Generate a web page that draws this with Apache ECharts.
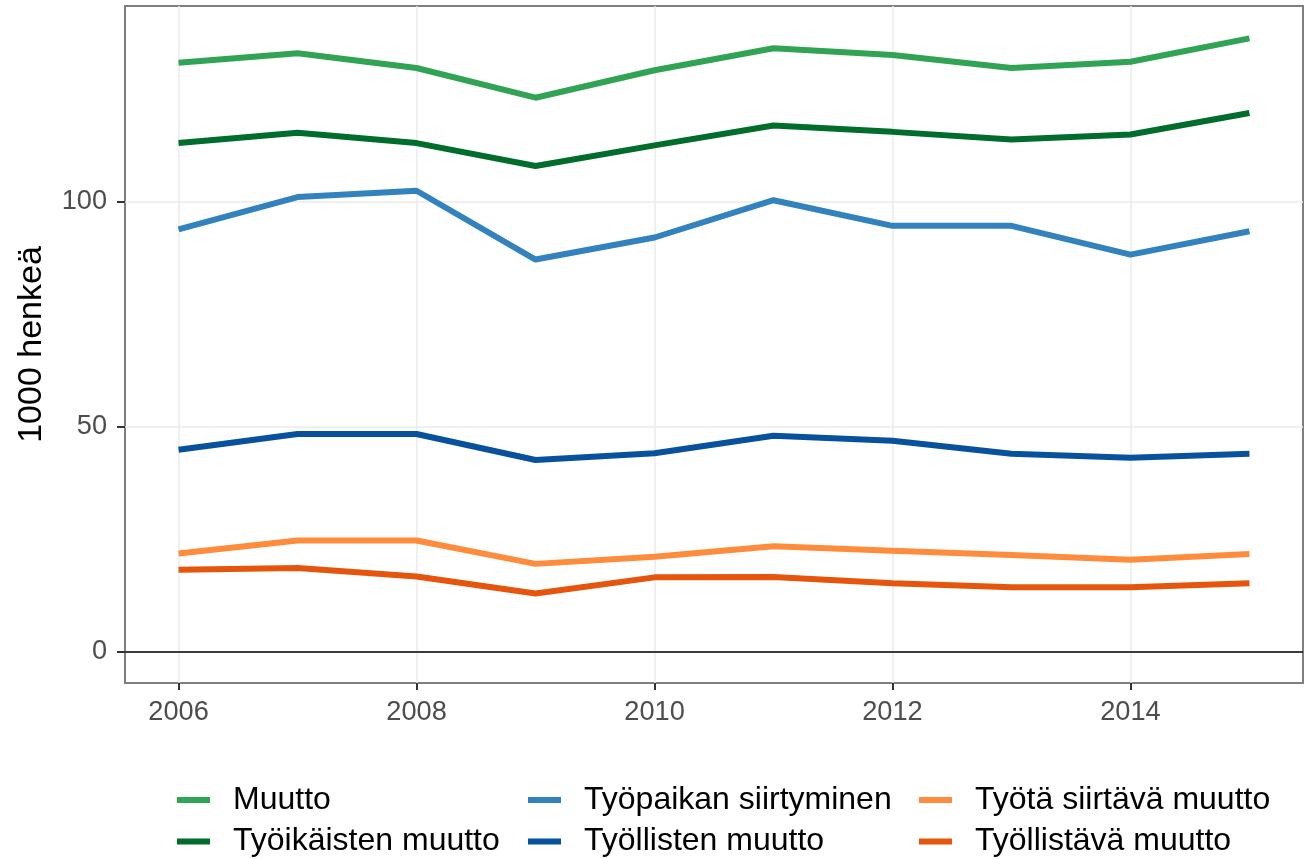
<!DOCTYPE html>
<html>
<head>
<meta charset="utf-8">
<script src="https://cdn.jsdelivr.net/npm/echarts@6/dist/echarts.min.js"></script>
<style>
  html, body { margin: 0; padding: 0; background: #fff; }
  #chart { width: 1305px; height: 859px; }
</style>
</head>
<body>
<div id="chart"></div>
<script>
// vuodet ja sarjat (1000 henkeä)
var years = [2006, 2007, 2008, 2009, 2010, 2011, 2012, 2013, 2014, 2015]
var muutto = [131.0, 133.1, 129.8, 123.2, 129.3, 134.2, 132.7, 129.8, 131.2, 136.4]
var tyoikaistenMuutto = [113.1, 115.4, 113.1, 108.0, 112.6, 117.0, 115.6, 113.9, 115.0, 119.8]
var tyopaikanSiirtyminen = [93.9, 101.1, 102.5, 87.2, 92.1, 100.4, 94.7, 94.7, 88.3, 93.5]
var tyollistenMuutto = [44.9, 48.4, 48.4, 42.6, 44.1, 48.0, 46.9, 44.0, 43.1, 44.0]
var tyotaSiirtavaMuutto = [21.8, 24.7, 24.7, 19.5, 21.1, 23.4, 22.4, 21.5, 20.4, 21.7]
var tyollistavaMuutto = [18.2, 18.6, 16.7, 12.9, 16.5, 16.6, 15.2, 14.3, 14.3, 15.2]

var xTicks = [2006, 2008, 2010, 2012, 2014]
var yTicks = [0, 50, 100]

var seriesList = [
  { name: 'Muutto', values: muutto, color: '#31a354' },
  { name: 'Työikäisten muutto', values: tyoikaistenMuutto, color: '#006d2c' },
  { name: 'Työpaikan siirtyminen', values: tyopaikanSiirtyminen, color: '#3182bd' },
  { name: 'Työllisten muutto', values: tyollistenMuutto, color: '#08519c' },
  { name: 'Työtä siirtävä muutto', values: tyotaSiirtavaMuutto, color: '#fd8d3c' },
  { name: 'Työllistävä muutto', values: tyollistavaMuutto, color: '#e6550d' }
]

var font = 'Liberation Sans, Arial, sans-serif'

function pairs (vals) {
  var out = []
  for (var i = 0; i < years.length; i++) {
    out.push([years[i], vals[i]])
  }
  return out
}

var series = seriesList.map(function (s, idx) {
  var item = {
    name: s.name,
    type: 'line',
    data: pairs(s.values),
    color: s.color,
    symbol: 'none',
    showSymbol: false,
    lineStyle: { width: 6, color: s.color },
    z: 3
  }
  // vaakaviiva nollaan
  if (idx === 0) {
    item.markLine = {
      silent: true,
      symbol: ['none', 'none'],
      label: { show: false },
      lineStyle: { color: '#000', width: 1.5, type: 'solid' },
      data: [{ yAxis: 0 }]
    }
  }
  return item
})

function legendCol (names, left) {
  return {
    data: names,
    orient: 'vertical',
    left: left,
    top: 784,
    padding: 0,
    itemGap: 9.5,
    icon: 'rect',
    itemWidth: 33,
    itemHeight: 6,
    selectedMode: false,
    textStyle: {
      fontFamily: font,
      fontSize: 32,
      lineHeight: 32,
      color: '#000',
      padding: [0, 0, 0, 18]
    }
  }
}

var chart = echarts.init(document.getElementById('chart'))
chart.setOption({
  animation: false,
  backgroundColor: '#fff',
  grid: {
    left: 125,
    right: 2,
    top: 6,
    bottom: 176,
    show: true,
    borderColor: '#7f7f7f',
    borderWidth: 2,
    backgroundColor: 'transparent'
  },
  legend: [
    legendCol(['Muutto', 'Työikäisten muutto'], 177),
    legendCol(['Työpaikan siirtyminen', 'Työllisten muutto'], 528),
    legendCol(['Työtä siirtävä muutto', 'Työllistävä muutto'], 919)
  ],
  xAxis: {
    type: 'value',
    min: 2005.55,
    max: 2015.45,
    axisLine: { show: false, onZero: false },
    axisTick: {
      show: true,
      length: 7,
      customValues: xTicks,
      lineStyle: { color: '#333', width: 2 }
    },
    axisLabel: {
      customValues: xTicks,
      margin: 16,
      fontFamily: font,
      fontSize: 27.2,
      color: '#4d4d4d',
      formatter: function (v) { return String(v) }
    },
    splitLine: { show: true, lineStyle: { color: '#ebebeb', width: 1.5 } }
  },
  yAxis: {
    type: 'value',
    min: -7.0,
    max: 143.6,
    name: '1000 henkeä',
    nameLocation: 'middle',
    nameGap: 76,
    nameTextStyle: { fontFamily: font, fontSize: 34, color: '#000' },
    axisLine: { show: false, onZero: false },
    axisTick: {
      show: true,
      length: 8,
      customValues: yTicks,
      lineStyle: { color: '#333', width: 2 }
    },
    axisLabel: {
      customValues: yTicks,
      margin: 18,
      fontFamily: font,
      fontSize: 27.2,
      color: '#4d4d4d'
    },
    splitLine: { show: true, lineStyle: { color: '#ebebeb', width: 1.5 } }
  },
  series: series
})
</script>
</body>
</html>
